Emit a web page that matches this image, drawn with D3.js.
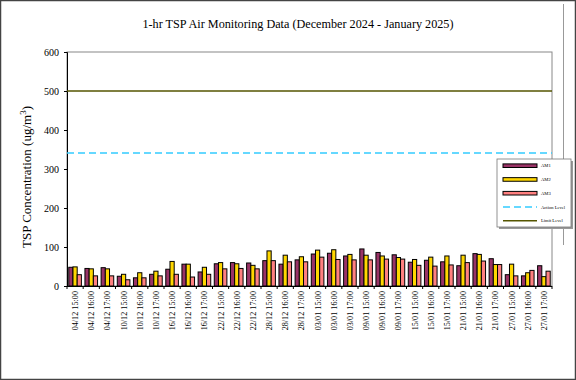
<!DOCTYPE html>
<html><head><meta charset="utf-8">
<script src="https://cdn.jsdelivr.net/npm/d3@7"></script>
<style>
html,body{margin:0;padding:0;background:#fff;}
svg{display:block;font-family:"Liberation Serif","Times New Roman",serif;}
</style></head>
<body><svg id="c" width="576" height="380"></svg>
<script>
const categories = ["04/12 15:00","04/12 16:00","04/12 17:00","10/12 15:00","10/12 16:00","10/12 17:00",
"16/12 15:00","16/12 16:00","16/12 17:00","22/12 15:00","22/12 16:00","22/12 17:00",
"28/12 15:00","28/12 16:00","28/12 17:00","03/01 15:00","03/01 16:00","03/01 17:00",
"09/01 15:00","09/01 16:00","09/01 17:00","15/01 15:00","15/01 16:00","15/01 17:00",
"21/01 15:00","21/01 16:00","21/01 17:00","27/01 15:00","27/01 16:00","27/01 17:00"];
const am1 = [48,45,47,25,21,30, 43,56,36, 57,60,59, 65,56,67, 82,84,77, 95,86,80, 61,66,62, 52,83,70, 29,26,52];
const am2 = [49,44,44,30,34,38, 63,56,48, 60,57,53, 90,79,75, 92,93,81, 79,77,73, 68,74,77, 79,81,55, 56,34,24];
const am3 = [29,26,26,16,21,26, 30,23,30, 44,45,44, 65,62,62, 74,68,67, 67,69,69, 53,51,54, 60,64,55, 26,40,38];
const actionLevel = 341;
const limitLevel = 500;
const yTicks = [0,100,200,300,400,500,600];
const seriesNames = ["AM1","AM2","AM3"];
const seriesColors = ["#993366","#FFD700","#FF8080"];

const svg = d3.select("#c");
svg.append("rect").attr("x",0.5).attr("y",0.5).attr("width",575).attr("height",379)
  .attr("fill","#fff").attr("stroke","#444").attr("stroke-width",1.5);
svg.append("line").attr("x1",563.5).attr("x2",563.5).attr("y1",4).attr("y2",245)
  .attr("stroke","#999").attr("stroke-width",1);

const L=67, R=552, T=52, B=286;
const x = d3.scaleBand().domain(categories).range([L,R]).paddingInner(0.22).paddingOuter(0.11);
const xs = d3.scaleBand().domain(seriesNames).range([0,x.bandwidth()]).padding(0);
const y = d3.scaleLinear().domain([0,600]).range([B,T]);

svg.append("rect").attr("x",L).attr("y",T).attr("width",R-L).attr("height",B-T)
  .attr("fill","#fff").attr("stroke","#888").attr("stroke-width",1);

svg.append("text").attr("x",298).attr("y",28).attr("text-anchor","middle")
  .attr("font-size",12.2).attr("fill","#000")
  .text("1-hr TSP Air Monitoring Data (December 2024 - January 2025)");

const ya = svg.append("g").attr("transform",`translate(${L},0)`)
  .call(d3.axisLeft(y).tickValues(yTicks).tickSize(3).tickPadding(5));
ya.select(".domain").attr("stroke","#000");
ya.selectAll(".tick line").attr("stroke","#000");
ya.selectAll("text").attr("font-size",10).attr("font-family","Liberation Serif, serif").attr("fill","#000");

const yt = svg.append("text").attr("transform","translate(31,177) rotate(-90)")
  .attr("text-anchor","middle").attr("font-size",13).attr("fill","#000");
yt.append("tspan").text("TSP Concentration (ug/m");
yt.append("tspan").attr("dy",-5).attr("font-size",9).text("3");
yt.append("tspan").attr("dy",5).text(")");

svg.append("line").attr("x1",L).attr("x2",R).attr("y1",y(limitLevel)).attr("y2",y(limitLevel))
  .attr("stroke","#555500").attr("stroke-width",1.5);
svg.append("line").attr("x1",L).attr("x2",R).attr("y1",y(actionLevel)).attr("y2",y(actionLevel))
  .attr("stroke","#33CCFF").attr("stroke-width",1.5).attr("stroke-dasharray","7,4");

const data = [am1,am2,am3];
const g = svg.append("g");
categories.forEach((c,i)=>{
  seriesNames.forEach((s,k)=>{
    const v = data[k][i];
    g.append("rect").attr("x",x(c)+xs(s)).attr("y",y(v)).attr("width",xs.bandwidth())
      .attr("height",y(0)-y(v)).attr("fill",seriesColors[k]).attr("stroke","#000").attr("stroke-width",1);
  });
});

svg.append("line").attr("x1",L).attr("x2",R).attr("y1",B+0.5).attr("y2",B+0.5).attr("stroke","#000");
categories.forEach((c,i)=>{
  const bx = L + i*(R-L)/categories.length;
  svg.append("line").attr("x1",bx).attr("x2",bx).attr("y1",B).attr("y2",B+3).attr("stroke","#000");
});
svg.append("line").attr("x1",R).attr("x2",R).attr("y1",B).attr("y2",B+3).attr("stroke","#000");
categories.forEach(c=>{
  const cx = x(c)+x.bandwidth()/2;
  svg.append("text").attr("transform",`translate(${cx+3},291) rotate(-90)`)
    .attr("text-anchor","end").attr("font-size",8.2).attr("fill","#000").text(c);
});

const lg = svg.append("g");
lg.append("rect").attr("x",499).attr("y",161).attr("width",74).attr("height",68).attr("fill","#999");
lg.append("rect").attr("x",497).attr("y",159).attr("width",74).attr("height",68)
  .attr("fill","#fff").attr("stroke","#777").attr("stroke-width",0.8);
const legItems = [
  {n:"AM1",type:"bar",c:seriesColors[0]},
  {n:"AM2",type:"bar",c:seriesColors[1]},
  {n:"AM3",type:"bar",c:seriesColors[2]},
  {n:"Action Level",type:"dash",c:"#33CCFF"},
  {n:"Limit Level",type:"line",c:"#555500"}];
legItems.forEach((d,i)=>{
  const yy = 165.7 + i*13.75;
  if(d.type==="bar"){
    lg.append("rect").attr("x",503).attr("y",yy-1.8).attr("width",34).attr("height",3.6)
      .attr("fill",d.c).attr("stroke","#000").attr("stroke-width",1);
  } else if(d.type==="dash"){
    lg.append("line").attr("x1",503).attr("x2",537).attr("y1",yy).attr("y2",yy)
      .attr("stroke",d.c).attr("stroke-width",1.5).attr("stroke-dasharray","7,4");
  } else {
    lg.append("line").attr("x1",503).attr("x2",537).attr("y1",yy).attr("y2",yy)
      .attr("stroke",d.c).attr("stroke-width",1.5);
  }
  lg.append("text").attr("x",541).attr("y",yy+1.6).attr("font-size",4.6).attr("fill","#000").text(d.n);
});
</script></body></html>
